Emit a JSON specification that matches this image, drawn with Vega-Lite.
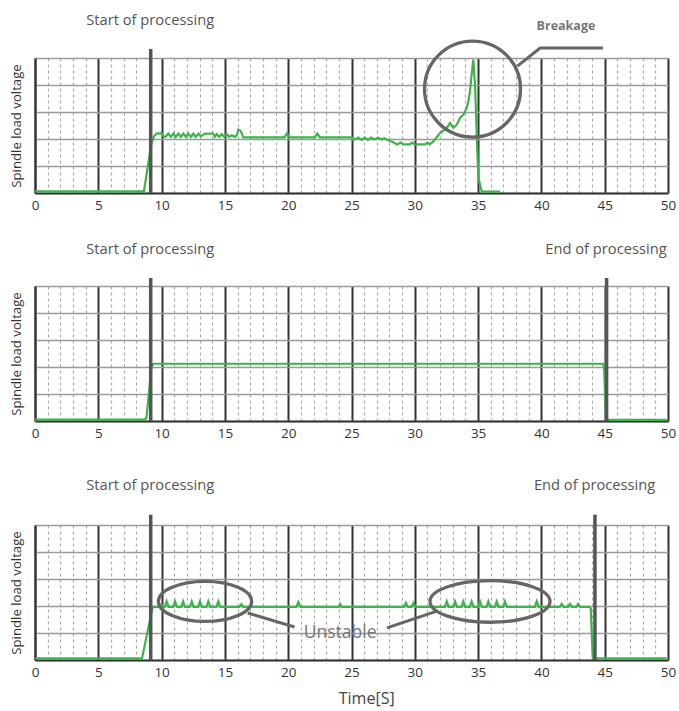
{
  "$schema": "https://vega.github.io/schema/vega-lite/v6.json",
  "background": "white",
  "padding": {"left": 8, "top": 13, "right": 0, "bottom": 0},
  "config": {
    "view": {"stroke": null},
    "font": "Open Sans",
    "text": {"font": "Open Sans"}
  },
  "datasets": {
    "s1": [
      {"t": 0, "v": 0.06}, {"t": 8.6, "v": 0.06}, {"t": 9.2, "v": 1.85}, {"t": 9.4, "v": 2.1}, {"t": 9.6, "v": 2.2}, {"t": 10.0, "v": 2.22}, {"t": 10.2, "v": 2.07},
      {"t": 10.35, "v": 2.1}, {"t": 10.53, "v": 2.2}, {"t": 10.73, "v": 2.08}, {"t": 10.93, "v": 2.2}, {"t": 11.12, "v": 2.08}, {"t": 11.32, "v": 2.2}, {"t": 11.52, "v": 2.08},
      {"t": 11.72, "v": 2.2}, {"t": 11.92, "v": 2.08}, {"t": 12.11, "v": 2.2}, {"t": 12.31, "v": 2.08}, {"t": 12.51, "v": 2.2}, {"t": 12.7, "v": 2.08}, {"t": 12.9, "v": 2.2},
      {"t": 13.1, "v": 2.1}, {"t": 13.43, "v": 2.2}, {"t": 14.08, "v": 2.2}, {"t": 14.2, "v": 2.08}, {"t": 14.35, "v": 2.18}, {"t": 14.55, "v": 2.08}, {"t": 14.75, "v": 2.18},
      {"t": 14.95, "v": 2.08}, {"t": 15.14, "v": 2.18}, {"t": 15.34, "v": 2.08}, {"t": 15.54, "v": 2.14}, {"t": 15.8, "v": 2.08}, {"t": 15.95, "v": 2.15}, {"t": 16.06, "v": 2.35},
      {"t": 16.25, "v": 2.3}, {"t": 16.45, "v": 2.06}, {"t": 19.7, "v": 2.06}, {"t": 19.9, "v": 2.2}, {"t": 20.1, "v": 2.06}, {"t": 22.1, "v": 2.06}, {"t": 22.3, "v": 2.2},
      {"t": 22.5, "v": 2.06}, {"t": 25.0, "v": 2.06}, {"t": 25.3, "v": 1.98}, {"t": 25.55, "v": 2.05}, {"t": 25.8, "v": 1.97}, {"t": 26.05, "v": 2.05}, {"t": 26.3, "v": 1.97},
      {"t": 26.55, "v": 2.05}, {"t": 26.8, "v": 1.98}, {"t": 27.1, "v": 2.05}, {"t": 27.4, "v": 1.98}, {"t": 27.6, "v": 2.03}, {"t": 27.9, "v": 1.95}, {"t": 28.3, "v": 1.88},
      {"t": 28.6, "v": 1.8}, {"t": 28.9, "v": 1.87}, {"t": 29.1, "v": 1.8}, {"t": 29.6, "v": 1.8}, {"t": 29.8, "v": 1.87}, {"t": 30.0, "v": 1.8}, {"t": 30.8, "v": 1.8},
      {"t": 31.0, "v": 1.87}, {"t": 31.2, "v": 1.8}, {"t": 31.46, "v": 1.91}, {"t": 31.99, "v": 2.22}, {"t": 32.52, "v": 2.41}, {"t": 32.78, "v": 2.59}, {"t": 33.04, "v": 2.41},
      {"t": 33.31, "v": 2.53}, {"t": 33.57, "v": 2.78}, {"t": 33.83, "v": 2.9}, {"t": 34.1, "v": 3.15}, {"t": 34.23, "v": 3.4}, {"t": 34.36, "v": 3.77}, {"t": 34.49, "v": 4.38},
      {"t": 34.62, "v": 4.94}, {"t": 34.76, "v": 4.01}, {"t": 34.89, "v": 2.16}, {"t": 35.02, "v": 0.56}, {"t": 35.28, "v": 0.06}, {"t": 36.73, "v": 0.05}
    ],
    "s2": [
      {"t": 0, "v": 0.05}, {"t": 8.6, "v": 0.05}, {"t": 8.8, "v": 0.1}, {"t": 9.2, "v": 2.0}, {"t": 9.35, "v": 2.12}, {"t": 44.85, "v": 2.12}, {"t": 44.95, "v": 2.0},
      {"t": 45.1, "v": 0.2}, {"t": 45.25, "v": 0.04}, {"t": 49.9, "v": 0.04}
    ],
    "s3": [
      {"t": 0, "v": 0.06}, {"t": 8.45, "v": 0.06}, {"t": 9.3, "v": 1.97}, {"t": 9.9, "v": 1.97}, {"t": 10.0, "v": 2.05}, {"t": 10.1, "v": 1.97},
      {"t": 10.25, "v": 1.97}, {"t": 10.4, "v": 2.17}, {"t": 10.55, "v": 1.97},
      {"t": 10.91, "v": 1.97}, {"t": 11.06, "v": 2.17}, {"t": 11.21, "v": 1.97},
      {"t": 11.55, "v": 1.97}, {"t": 11.7, "v": 2.17}, {"t": 11.85, "v": 1.97},
      {"t": 12.23, "v": 1.97}, {"t": 12.38, "v": 2.17}, {"t": 12.53, "v": 1.97},
      {"t": 12.88, "v": 1.97}, {"t": 13.03, "v": 2.17}, {"t": 13.18, "v": 1.97},
      {"t": 13.54, "v": 1.97}, {"t": 13.69, "v": 2.17}, {"t": 13.84, "v": 1.97},
      {"t": 14.33, "v": 1.97}, {"t": 14.48, "v": 2.17}, {"t": 14.63, "v": 1.97},
      {"t": 16.15, "v": 1.97}, {"t": 16.3, "v": 2.07}, {"t": 16.45, "v": 1.97},
      {"t": 20.65, "v": 1.97}, {"t": 20.8, "v": 2.15}, {"t": 20.95, "v": 1.97},
      {"t": 24.0, "v": 1.97}, {"t": 24.1, "v": 2.07}, {"t": 24.2, "v": 1.97},
      {"t": 29.15, "v": 1.97}, {"t": 29.3, "v": 2.12}, {"t": 29.45, "v": 1.97},
      {"t": 29.75, "v": 1.97}, {"t": 29.9, "v": 2.12}, {"t": 30.05, "v": 1.97},
      {"t": 32.37, "v": 1.97}, {"t": 32.52, "v": 2.17}, {"t": 32.67, "v": 1.97},
      {"t": 33.03, "v": 1.97}, {"t": 33.18, "v": 2.17}, {"t": 33.33, "v": 1.97},
      {"t": 33.68, "v": 1.97}, {"t": 33.83, "v": 2.17}, {"t": 33.98, "v": 1.97},
      {"t": 34.34, "v": 1.97}, {"t": 34.49, "v": 2.17}, {"t": 34.64, "v": 1.97},
      {"t": 35.0, "v": 1.97}, {"t": 35.15, "v": 2.17}, {"t": 35.3, "v": 1.97},
      {"t": 35.66, "v": 1.97}, {"t": 35.81, "v": 2.17}, {"t": 35.96, "v": 1.97},
      {"t": 36.32, "v": 1.97}, {"t": 36.47, "v": 2.17}, {"t": 36.62, "v": 1.97},
      {"t": 36.97, "v": 1.97}, {"t": 37.12, "v": 2.17}, {"t": 37.27, "v": 1.97},
      {"t": 39.48, "v": 1.97}, {"t": 39.63, "v": 2.17}, {"t": 39.78, "v": 1.97},
      {"t": 41.45, "v": 1.97}, {"t": 41.6, "v": 2.08}, {"t": 41.75, "v": 1.97},
      {"t": 42.11, "v": 1.97}, {"t": 42.26, "v": 2.08}, {"t": 42.41, "v": 1.97},
      {"t": 42.75, "v": 1.97}, {"t": 42.9, "v": 2.08}, {"t": 43.05, "v": 1.97},
      {"t": 43.8, "v": 1.97}, {"t": 43.9, "v": 1.9}, {"t": 44.05, "v": 0.1}, {"t": 44.15, "v": 0.06}, {"t": 49.9, "v": 0.06}
    ]
  },
  "spacing": 38,
  "vconcat": [
    {
      "spacing": 30,
      "vconcat": [
        {
          "width": 633,
          "height": 135,
          "encoding": {
            "x": {"field": "t", "type": "quantitative", "scale": {"domain": [0, 50], "nice": false, "zero": false},
              "axis": {"values": [0,1,2,3,4,5,6,7,8,9,10,11,12,13,14,15,16,17,18,19,20,21,22,23,24,25,26,27,28,29,30,31,32,33,34,35,36,37,38,39,40,41,42,43,44,45,46,47,48,49,50],
                "title": null, "labelExpr": "datum.value % 5 === 0 ? datum.label : ''", "labelFlush": false, "labelOverlap": false, "labelBound": false,
                "labelFontSize": 13.5, "labelColor": "#333", "labelFont": "Open Sans", "labelPadding": 5, "ticks": false,
                "domainColor": "#333", "domainWidth": 2, "gridOpacity": 1,
                "gridColor": {"condition": {"test": "datum.value % 5 === 0", "value": "#333"}, "value": "#aaa"},
                "gridWidth": {"condition": {"test": "datum.value % 5 === 0", "value": 2}, "value": 1.2},
                "gridDash": {"condition": {"test": "datum.value % 5 === 0", "value": []}, "value": [3, 3]}}},
            "y": {"field": "v", "type": "quantitative", "scale": {"domain": [0, 5], "nice": false},
              "axis": {"values": [0,1,2,3,4,5], "title": "Spindle load voltage", "labels": false, "ticks": false,
                "domainColor": "#333", "domainWidth": 2, "gridColor": "#9a9a9a", "gridWidth": 1.3, "gridOpacity": 1,
                "titleFont": "Open Sans", "titleFontSize": 13.2, "titleFontWeight": "normal", "titleColor": "#333", "titlePadding": 12}}
          },
          "layer": [
            {"data": {"name": "s1"}, "mark": {"type": "line", "color": "#3cb44b", "strokeWidth": 2.2}},
            {"data": {"values": [{"t": 9.14, "v": 0, "v2": 5.33}]}, "mark": {"type": "rule", "color": "#555", "strokeWidth": 3.5}, "encoding": {"y2": {"field": "v2"}}},
            {"data": {"values": [{"t": 9.1, "v": 6.37, "label": "Start of processing"}]}, "mark": {"type": "text", "fontSize": 14.7, "color": "#555", "align": "center", "baseline": "middle"}, "encoding": {"text": {"field": "label"}}},
            {"data": {"values": [{"t": 34.56, "v": 3.85}]}, "mark": {"type": "point", "shape": "circle", "size": 9216, "filled": false, "stroke": "#666", "strokeWidth": 3.3, "opacity": 1}},
            {"data": {"values": [{"t": 38.1, "v": 4.7}, {"t": 39.9, "v": 5.37}, {"t": 44.87, "v": 5.37}]}, "mark": {"type": "line", "color": "#666", "strokeWidth": 3}},
            {"data": {"values": [{"t": 41.94, "v": 6.17, "label": "Breakage"}]}, "mark": {"type": "text", "fontSize": 12.5, "fontWeight": "bold", "color": "#777", "align": "center", "baseline": "middle"}, "encoding": {"text": {"field": "label"}}}
          ]
        },
        {
          "width": 633,
          "height": 135,
          "encoding": {
            "x": {"field": "t", "type": "quantitative", "scale": {"domain": [0, 50], "nice": false, "zero": false},
              "axis": {"values": [0,1,2,3,4,5,6,7,8,9,10,11,12,13,14,15,16,17,18,19,20,21,22,23,24,25,26,27,28,29,30,31,32,33,34,35,36,37,38,39,40,41,42,43,44,45,46,47,48,49,50],
                "title": null, "labelExpr": "datum.value % 5 === 0 ? datum.label : ''", "labelFlush": false, "labelOverlap": false, "labelBound": false,
                "labelFontSize": 13.5, "labelColor": "#333", "labelFont": "Open Sans", "labelPadding": 5, "ticks": false,
                "domainColor": "#333", "domainWidth": 2, "gridOpacity": 1,
                "gridColor": {"condition": {"test": "datum.value % 5 === 0", "value": "#333"}, "value": "#aaa"},
                "gridWidth": {"condition": {"test": "datum.value % 5 === 0", "value": 2}, "value": 1.2},
                "gridDash": {"condition": {"test": "datum.value % 5 === 0", "value": []}, "value": [3, 3]}}},
            "y": {"field": "v", "type": "quantitative", "scale": {"domain": [0, 5], "nice": false},
              "axis": {"values": [0,1,2,3,4,5], "title": "Spindle load voltage", "labels": false, "ticks": false,
                "domainColor": "#333", "domainWidth": 2, "gridColor": "#9a9a9a", "gridWidth": 1.3, "gridOpacity": 1,
                "titleFont": "Open Sans", "titleFontSize": 13.2, "titleFontWeight": "normal", "titleColor": "#333", "titlePadding": 12}}
          },
          "layer": [
            {"data": {"name": "s2"}, "mark": {"type": "line", "color": "#3cb44b", "strokeWidth": 2.2}},
            {"data": {"values": [{"t": 9.14, "v": 0, "v2": 5.3}, {"t": 45.15, "v": 0, "v2": 5.3}]}, "mark": {"type": "rule", "color": "#555", "strokeWidth": 3.5}, "encoding": {"y2": {"field": "v2"}}},
            {"data": {"values": [{"t": 9.1, "v": 6.33, "label": "Start of processing"}, {"t": 45.1, "v": 6.33, "label": "End of processing"}]}, "mark": {"type": "text", "fontSize": 14.7, "color": "#555", "align": "center", "baseline": "middle"}, "encoding": {"text": {"field": "label"}}}
          ]
        }
      ]
    },
    {
      "width": 633,
      "height": 135,
      "encoding": {
        "x": {"field": "t", "type": "quantitative", "scale": {"domain": [0, 50], "nice": false, "zero": false},
          "axis": {"values": [0,1,2,3,4,5,6,7,8,9,10,11,12,13,14,15,16,17,18,19,20,21,22,23,24,25,26,27,28,29,30,31,32,33,34,35,36,37,38,39,40,41,42,43,44,45,46,47,48,49,50],
            "title": null, "labelExpr": "datum.value % 5 === 0 ? datum.label : ''", "labelFlush": false, "labelOverlap": false, "labelBound": false,
            "labelFontSize": 13.5, "labelColor": "#333", "labelFont": "Open Sans", "labelPadding": 5, "ticks": false,
            "domainColor": "#333", "domainWidth": 2, "gridOpacity": 1,
            "gridColor": {"condition": {"test": "datum.value % 5 === 0", "value": "#333"}, "value": "#aaa"},
            "gridWidth": {"condition": {"test": "datum.value % 5 === 0", "value": 2}, "value": 1.2},
            "gridDash": {"condition": {"test": "datum.value % 5 === 0", "value": []}, "value": [3, 3]}}},
        "y": {"field": "v", "type": "quantitative", "scale": {"domain": [0, 5], "nice": false},
          "axis": {"values": [0,1,2,3,4,5], "title": "Spindle load voltage", "labels": false, "ticks": false,
            "domainColor": "#333", "domainWidth": 2, "gridColor": "#9a9a9a", "gridWidth": 1.3, "gridOpacity": 1,
            "titleFont": "Open Sans", "titleFontSize": 13.2, "titleFontWeight": "normal", "titleColor": "#333", "titlePadding": 12}}
      },
      "layer": [
        {"data": {"name": "s3"}, "mark": {"type": "line", "color": "#3cb44b", "strokeWidth": 2.2}},
        {"data": {"values": [{"t": 9.14, "v": 0, "v2": 5.38}, {"t": 44.23, "v": 0, "v2": 5.38}]}, "mark": {"type": "rule", "color": "#555", "strokeWidth": 3.5}, "encoding": {"y2": {"field": "v2"}}},
        {"data": {"values": [{"t": 9.1, "v": 6.44, "label": "Start of processing"}, {"t": 44.2, "v": 6.44, "label": "End of processing"}]}, "mark": {"type": "text", "fontSize": 14.7, "color": "#555", "align": "center", "baseline": "middle"}, "encoding": {"text": {"field": "label"}}},
        {"data": {"values": [{"t": 13.43, "v": 2.17}]}, "mark": {"type": "point", "shape": "M -1 0 A 1 0.43 0 1 1 1 0 A 1 0.43 0 1 1 -1 0 Z", "size": 8687, "filled": false, "stroke": "#666", "strokeWidth": 3.3, "opacity": 1}},
        {"data": {"values": [{"t": 35.94, "v": 2.17}]}, "mark": {"type": "point", "shape": "M -1 0 A 1 0.347 0 1 1 1 0 A 1 0.347 0 1 1 -1 0 Z", "size": 14400, "filled": false, "stroke": "#666", "strokeWidth": 3.3, "opacity": 1}},
        {"data": {"values": [{"seg": "a", "t": 16.8, "v": 1.74}, {"seg": "a", "t": 20.5, "v": 1.22}, {"seg": "b", "t": 27.8, "v": 1.19}, {"seg": "b", "t": 31.75, "v": 1.81}]}, "mark": {"type": "line", "color": "#666", "strokeWidth": 3}, "encoding": {"detail": {"field": "seg"}}},
        {"data": {"values": [{"t": 24.1, "v": 1.0, "label": "Unstable"}]}, "mark": {"type": "text", "fontSize": 17.5, "color": "#777", "align": "center", "baseline": "middle"}, "encoding": {"text": {"field": "label"}}},
        {"data": {"values": [{"t": 26.2, "v": -1.45, "label": "Time[S]"}]}, "mark": {"type": "text", "fontSize": 16, "color": "#444", "align": "center", "baseline": "middle"}, "encoding": {"text": {"field": "label"}}}
      ]
    }
  ]
}
